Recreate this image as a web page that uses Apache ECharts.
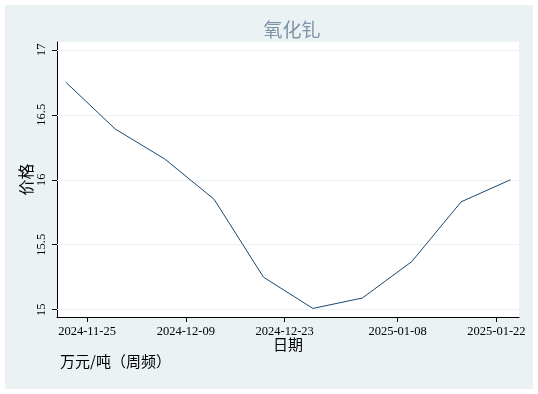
<!DOCTYPE html>
<html>
<head>
<meta charset="utf-8">
<script src="https://cdn.jsdelivr.net/npm/echarts@6/dist/echarts.min.js"></script>
<style>html,body{margin:0;padding:0;background:#fff}#c{width:538px;height:394px}</style>
</head>
<body>
<div id="c"></div>
<script>
var dates = ['2024-11-22','2024-11-29','2024-12-06','2024-12-13','2024-12-20','2024-12-27','2025-01-03','2025-01-10','2025-01-17','2025-01-24'];
var prices = [16.75, 16.39, 16.16, 15.85, 15.25, 15.01, 15.09, 15.37, 15.83, 16.0];
var xTickLabels = ['2024-11-25','2024-12-09','2024-12-23','2025-01-08','2025-01-22'];
var yTicks = [15, 15.5, 16, 16.5, 17];

var DAY = 86400000;
function ts(s){ return Date.parse(s + 'T00:00:00Z'); }
var xTicks = xTickLabels.map(ts);
var seriesData = dates.map(function(d, i){ return [ts(d), prices[i]]; });
var xMin = ts('2024-11-25') - 4.26 * DAY;
var xMax = ts('2024-11-25') + 61.2 * DAY;

var serif = '"Liberation Serif", "DejaVu Serif", serif';
var cjk = '"Noto Sans CJK SC", sans-serif';

var chart = echarts.init(document.getElementById('c'), null, {renderer: 'canvas'});
chart.setOption({
  backgroundColor: '#ffffff',
  animation: false,
  graphic: [{
    type: 'rect', z: -10, silent: true,
    shape: {x: 5, y: 5, width: 528, height: 384},
    style: {fill: '#EAF2F3'}
  }, {
    type: 'text', left: 60, top: 354,
    style: {text: '万元/吨（周频）', fontSize: 15, fontFamily: cjk, fill: '#000'}
  }],
  title: {
    text: '氧化钆', left: 287, top: 15, textAlign: 'center',
    textStyle: {fontSize: 19, fontWeight: 'normal', color: '#7F93A8', fontFamily: cjk}
  },
  grid: {
    left: 57, right: 19, top: 42, bottom: 77,
    show: true, backgroundColor: '#ffffff', borderWidth: 0
  },
  xAxis: {
    type: 'value', min: xMin, max: xMax,
    name: '日期', nameLocation: 'middle', nameGap: 20, nameMoveOverlap: false,
    nameTextStyle: {fontSize: 15, fontFamily: cjk, color: '#000'},
    axisLine: {show: true, onZero: false, lineStyle: {color: '#000', width: 1}},
    axisTick: {show: true, length: 5, lineStyle: {color: '#000'}, customValues: xTicks},
    axisLabel: {
      customValues: xTicks, margin: 8, fontSize: 12.5, fontFamily: serif, color: '#000',
      formatter: function(v){ return new Date(v).toISOString().slice(0, 10); }
    },
    splitLine: {show: false}
  },
  yAxis: {
    type: 'value', min: 14.944, max: 17.06,
    name: '价格', nameLocation: 'middle', nameGap: 23, nameMoveOverlap: false,
    nameTextStyle: {fontSize: 16, fontFamily: cjk, color: '#000'},
    axisLine: {show: true, lineStyle: {color: '#000', width: 1}},
    axisTick: {show: true, length: 5, lineStyle: {color: '#000'}, customValues: yTicks},
    axisLabel: {
      customValues: yTicks, rotate: 90, margin: 9, fontSize: 12.5, fontFamily: serif, color: '#000',
      formatter: function(v){ return String(v); }
    },
    splitLine: {show: false}
  },
  series: [{
    type: 'line', data: [], z: 1, silent: true,
    markLine: {
      silent: true, symbol: 'none', label: {show: false}, animation: false,
      lineStyle: {color: '#EAF2F3', width: 1, type: 'solid'},
      data: yTicks.map(function(v){ return {yAxis: v}; })
    }
  }, {
    type: 'line', data: seriesData, showSymbol: false, symbol: 'none',
    lineStyle: {color: '#1A476F', width: 1},
    z: 5
  }]
});
</script>
</body>
</html>
